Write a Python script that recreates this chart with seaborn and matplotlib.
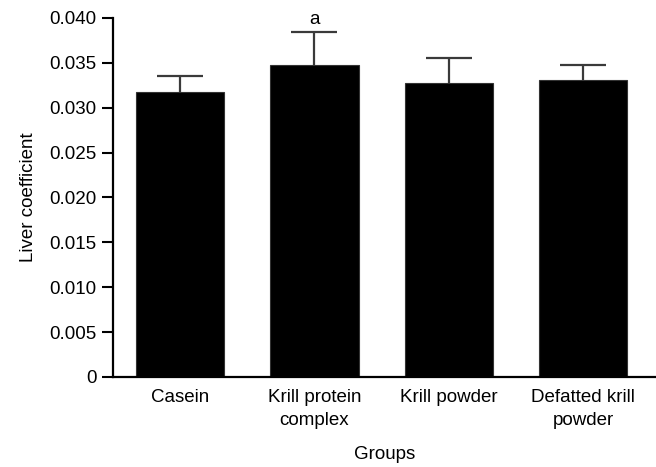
import matplotlib
matplotlib.use("Agg")
import matplotlib.pyplot as plt
import seaborn as sns
import pandas as pd

groups = ["Casein", "Krill protein\ncomplex", "Krill powder", "Defatted krill\npowder"]
means = [0.0317, 0.0348, 0.0328, 0.0331]
errors = [0.0018, 0.0036, 0.0027, 0.0017]
sig_labels = ["", "a", "", ""]
yticks = [0, 0.005, 0.010, 0.015, 0.020, 0.025, 0.030, 0.035, 0.040]
ytick_labels = ["0", "0.005", "0.010", "0.015", "0.020", "0.025", "0.030", "0.035", "0.040"]

sns.set_theme(style="ticks")
plt.rcParams["font.family"] = ["Liberation Sans", "DejaVu Sans"]
plt.rcParams["text.color"] = "black"
plt.rcParams["axes.labelcolor"] = "black"
plt.rcParams["xtick.color"] = "black"
plt.rcParams["ytick.color"] = "black"

df = pd.DataFrame({"group": groups, "value": means})

fig = plt.figure(figsize=(6.56, 4.67), dpi=100)
ax = fig.add_axes([0.172, 0.193, 0.83, 0.7685])

sns.barplot(data=df, x="group", y="value", color="black", width=0.655,
            edgecolor="#333333", linewidth=0.8, errorbar=None, ax=ax, zorder=2)
for c in ax.patches:
    c.set_facecolor("black")

xs = list(range(len(groups)))
line, caps, bars = ax.errorbar(xs, means, yerr=[[0] * len(errors), errors], fmt="none",
                               ecolor="#3a3a3a", elinewidth=1.6, capsize=16.5,
                               capthick=1.6, zorder=1)
caps[0].set_visible(False)

for x, s in zip(xs, sig_labels):
    if s:
        ax.text(x, 0.0398, s, ha="center", va="center", fontsize=13.5, color="black")

ax.set_ylim(0, 0.040)
ax.set_xlim(-0.5, 3.55)
ax.set_yticks(yticks)
ax.set_yticklabels(ytick_labels)
ax.set_xlabel("Groups", fontsize=13.5, labelpad=12)
ax.set_ylabel("Liver coefficient", fontsize=13.5, labelpad=9)
ax.tick_params(axis="y", labelsize=13.5, length=8, width=1.5, direction="out")
ax.tick_params(axis="x", labelsize=13.5, length=0, pad=9)

for side in ["top", "right"]:
    ax.spines[side].set_visible(False)
for side in ["left", "bottom"]:
    ax.spines[side].set_linewidth(1.6)
    ax.spines[side].set_color("black")
ax.spines["left"].set_bounds(0, 0.040)
ax.spines["bottom"].set_zorder(3)

for lbl in ax.get_xticklabels():
    lbl.set_linespacing(1.45)

fig.savefig("out.png", dpi=100)
